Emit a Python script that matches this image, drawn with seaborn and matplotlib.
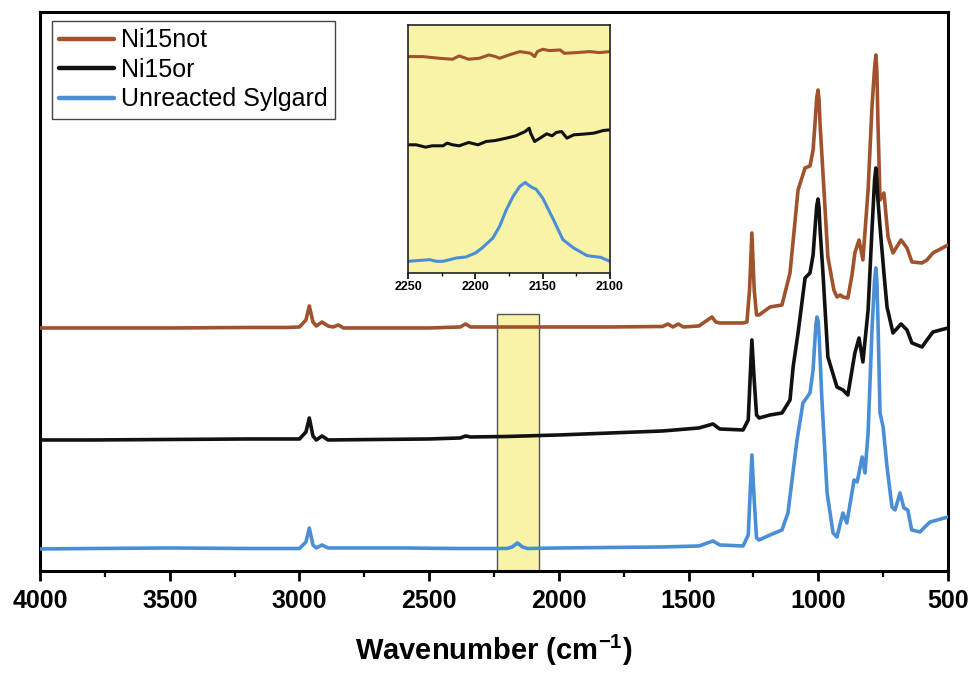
import matplotlib
matplotlib.use('Agg')
import matplotlib.pyplot as plt
import matplotlib.patches as patches
from matplotlib.ticker import MultipleLocator
import seaborn as sns

sns.set_style('ticks')
plt.rcParams['font.family'] = ['Liberation Sans', 'DejaVu Sans']
plt.rcParams['mathtext.fontset'] = 'custom'
plt.rcParams['mathtext.rm'] = 'Liberation Sans:bold'
plt.rcParams['mathtext.bf'] = 'Liberation Sans:bold'
plt.rcParams['mathtext.default'] = 'bf'
plt.rcParams['text.color'] = 'black'
plt.rcParams['axes.labelcolor'] = 'black'
plt.rcParams['xtick.color'] = 'black'

# main spectra (wavenumber, offset intensity)
not_wn = [4000, 3800, 3500, 3200, 3050, 3000, 2975, 2962, 2948, 2935, 2913, 2890, 2870, 2850, 2830,
          2700, 2500, 2380, 2360, 2340, 2200, 2000, 1800, 1600, 1580, 1560, 1540, 1520, 1460, 1410,
          1395, 1380, 1290, 1275, 1265, 1256, 1247, 1238, 1228, 1186, 1140, 1109, 1078, 1051, 1032,
          1020, 1013, 1006, 1001, 997, 993, 982, 963, 940, 928, 915, 905, 886, 870, 859, 843, 828,
          808, 793, 783, 778, 774, 770, 762, 747, 731, 712, 681, 658, 639, 600, 581, 558, 500]
not_px = [328, 328, 328, 327.5, 327.5, 327, 320, 306, 322, 326, 322, 326, 327, 325, 328,
          328, 328, 327, 324, 327, 327, 327, 327, 326.5, 324, 327, 324, 327, 326, 317,
          322, 323, 323, 322, 290, 233, 290, 315, 315, 307, 305, 273, 190, 168, 166,
          150, 125, 98, 90, 100, 125, 173, 257, 290, 297, 295, 297, 298, 275, 253, 240, 260,
          190, 107, 68, 55, 72, 123, 200, 193, 237, 253, 240, 248, 262, 263, 260, 253, 245]

or_wn = [4000, 3800, 3500, 3200, 3000, 2975, 2962, 2948, 2935, 2913, 2890, 2700, 2500, 2380, 2360,
         2340, 2200, 2000, 1800, 1600, 1460, 1406, 1380, 1290, 1270, 1256, 1247, 1238, 1228, 1186,
         1140, 1109, 1097, 1078, 1051, 1032, 1020, 1013, 1006, 1001, 997, 993, 982, 963, 928, 905,
         886, 859, 843, 828, 808, 793, 783, 778, 774, 770, 762, 747, 735, 712, 681, 658, 639, 600,
         581, 558, 500]
or_px = [440, 440, 439.5, 439, 439, 432, 418, 436, 440, 436, 440, 439.5, 439, 438, 436,
         437, 436.5, 435, 433, 431, 428, 424, 429, 430, 420, 340, 380, 415, 418, 415,
         413, 400, 367, 333, 278, 273, 255, 230, 206, 199, 208, 230, 273, 357, 387, 390,
         395, 353, 338, 362, 310, 230, 180, 168, 182, 200, 227, 273, 307, 333, 324, 330, 343, 347,
         340, 332, 328]

syl_wn = [4000, 3800, 3500, 3200, 3000, 2975, 2962, 2948, 2935, 2913, 2890, 2600, 2400, 2200, 2180,
          2160, 2140, 2120, 2000, 1800, 1600, 1460, 1406, 1380, 1290, 1270, 1256, 1247, 1238, 1228,
          1186, 1140, 1117, 1082, 1059, 1032, 1020, 1013, 1009, 1005, 1000, 996, 986, 966, 943, 928,
          905, 890, 862, 850, 831, 820, 808, 793, 783, 778, 774, 770, 762, 750, 735, 716, 704, 685,
          670, 655, 640, 608, 589, 569, 500]
syl_px = [549, 548.5, 548, 548.5, 548.5, 542, 528, 545, 548, 545, 548, 548, 548.5, 548.5, 547,
          543, 547, 548.5, 548, 547.5, 547, 546, 541, 545, 546, 535, 455, 500, 538, 540,
          535, 530, 513, 440, 403, 393, 370, 340, 324, 317, 322, 340, 400, 493, 533, 537,
          513, 523, 480, 482, 457, 473, 433, 330, 280, 268, 282, 320, 413, 427, 467, 507, 510, 493,
          508, 510, 530, 532, 527, 522, 517]

# inset 2250-2100 cm-1
ins_not_wn = [2250, 2239, 2227, 2217, 2212, 2205, 2197, 2190, 2185, 2182, 2175, 2167, 2162, 2159,
              2156, 2154, 2150, 2145, 2137, 2134, 2125, 2115, 2108, 2100]
ins_not_y = [6.50, 6.50, 6.45, 6.42, 6.52, 6.42, 6.45, 6.55, 6.50, 6.45, 6.55, 6.65, 6.62, 6.60,
             6.50, 6.65, 6.72, 6.68, 6.70, 6.60, 6.62, 6.65, 6.62, 6.65]
ins_or_wn = [2250, 2244, 2237, 2232, 2224, 2221, 2217, 2212, 2205, 2198, 2192, 2185, 2177, 2170,
             2163, 2160, 2159, 2156, 2152, 2147, 2143, 2140, 2136, 2132, 2127, 2120, 2112, 2105, 2100]
ins_or_y = [3.85, 3.85, 3.78, 3.82, 3.82, 3.90, 3.85, 3.82, 3.92, 3.85, 3.95, 3.98, 4.05, 4.12,
            4.25, 4.35, 4.20, 3.95, 4.05, 4.18, 4.12, 4.22, 4.25, 4.05, 4.15, 4.17, 4.20, 4.28, 4.30]
ins_syl_wn = [2250, 2234, 2229, 2224, 2214, 2207, 2200, 2195, 2187, 2182, 2177, 2172, 2167, 2163,
              2161, 2157, 2155, 2150, 2142, 2135, 2127, 2117, 2107, 2100]
ins_syl_y = [0.35, 0.40, 0.35, 0.35, 0.45, 0.48, 0.60, 0.75, 1.05, 1.40, 1.90, 2.30, 2.60, 2.72,
             2.65, 2.55, 2.52, 2.25, 1.60, 1.00, 0.75, 0.52, 0.47, 0.35]

labels = ['Ni15not', 'Ni15or', 'Unreacted Sylgard']
colors = ['#A0522D', '#111111', '#4A8FD6']


def to_y(px):
    return [(571 - p) / 100 for p in px]


fig = plt.figure(figsize=(9.72, 6.73), dpi=100)
ax = fig.add_axes([0.0412, 0.1516, 0.9341, 0.8306])

ax.add_patch(patches.Rectangle((2078, 0), 162, 2.57, facecolor='#F8F3A6',
                               edgecolor='#555555', lw=1.0, zorder=1))

for wn, px, lab, col in zip([not_wn, or_wn, syl_wn], [not_px, or_px, syl_px], labels, colors):
    sns.lineplot(x=wn, y=to_y(px), color=col, lw=2.6, label=lab, ax=ax, sort=False, zorder=3)

ax.set_xlim(4000, 500)
ax.set_ylim(0, 5.59)
ax.set_yticks([])
ax.set_ylabel('')
ax.xaxis.set_major_locator(MultipleLocator(500))
ax.xaxis.set_minor_locator(MultipleLocator(250))
ax.tick_params(axis='x', which='major', direction='out', length=7, width=2, pad=6,
               labelsize=18, labelcolor='black')
ax.tick_params(axis='x', which='minor', direction='out', length=4, width=1.6)
for lbl in ax.get_xticklabels():
    lbl.set_fontweight('bold')
for s in ax.spines.values():
    s.set_linewidth(2.2)
    s.set_color('black')
ax.set_xlabel(r'Wavenumber (cm$^{-1}$)', fontsize=21, fontweight='bold', labelpad=14,
              color='black')

leg = ax.legend(loc='upper left', bbox_to_anchor=(0.013, 0.984), borderaxespad=0,
                fontsize=18, handlelength=2.2, handletextpad=0.25, labelspacing=0.22,
                borderpad=0.3, fancybox=False, framealpha=1)
leg.get_frame().set_edgecolor('#444444')
leg.get_frame().set_linewidth(1.0)
for h in leg.get_lines():
    h.set_linewidth(3.2)
for t in leg.get_texts():
    t.set_color('black')

# inset
ins = fig.add_axes([0.4198, 0.5944, 0.2078, 0.3685])
ins.set_facecolor('#F8F3A6')
for wn, yv, col in zip([ins_not_wn, ins_or_wn, ins_syl_wn], [ins_not_y, ins_or_y, ins_syl_y], colors):
    sns.lineplot(x=wn, y=yv, color=col, lw=2.2, ax=ins, sort=False)
ins.set_xlim(2250, 2100)
ins.set_ylim(0, 7.45)
ins.set_yticks([])
ins.set_ylabel('')
ins.xaxis.set_major_locator(MultipleLocator(50))
ins.xaxis.set_minor_locator(MultipleLocator(25))
ins.tick_params(axis='x', which='major', direction='out', length=4, width=1.2, pad=2,
                labelsize=9, labelcolor='black')
ins.tick_params(axis='x', which='minor', direction='out', length=2, width=1)
for lbl in ins.get_xticklabels():
    lbl.set_fontweight('bold')
for s in ins.spines.values():
    s.set_linewidth(1.2)
    s.set_color('#222222')

fig.savefig('out.png', dpi=100)
